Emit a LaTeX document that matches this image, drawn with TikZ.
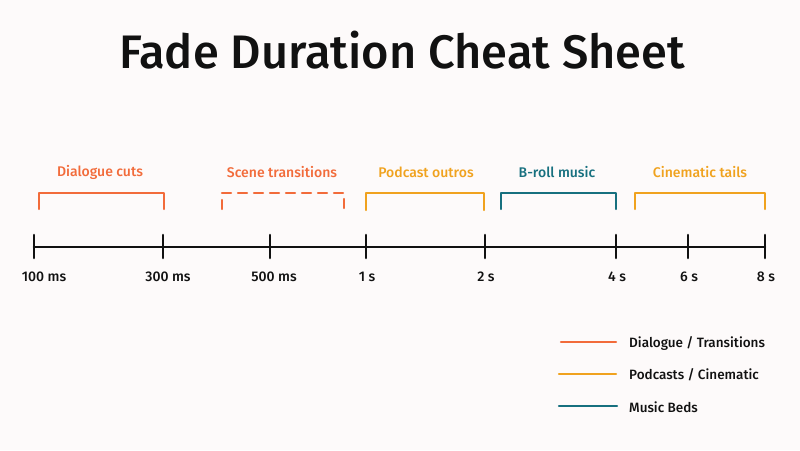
\documentclass[tikz,border=0pt]{standalone}
\usepackage{fontspec}
\setmainfont{Fira Sans}[UprightFont=* Medium]
\definecolor{bg}{HTML}{FDFAFA}
\definecolor{corange}{HTML}{F26B3A}
\definecolor{camber}{HTML}{F0A21E}
\definecolor{cteal}{HTML}{17707F}
\definecolor{ink}{HTML}{111111}
\begin{document}
\begin{tikzpicture}[x=1pt,y=-1pt,
  axisline/.style={draw=ink,line width=2.6pt,line cap=round},
  tickmark/.style={draw=ink,line width=2.6pt,line cap=round},
  ticklab/.style={font=\fontsize{14}{16}\selectfont,text=ink,inner sep=0pt},
  brk/.style={line width=2.4pt,line cap=round,line join=round},
  brklab/.style={font=\fontsize{14}{16}\selectfont,inner sep=0pt},
  leglab/.style={font=\fontsize{13.5}{15}\selectfont,text=ink,inner sep=0pt,anchor=west}]
\fill[bg] (0,0) rectangle (800,450);
\useasboundingbox (0,0) rectangle (800,450);
\node[font=\fontsize{47}{52}\selectfont,text=ink] (title) at (402,50) {Fade Duration Cheat Sheet};
% axis
\coordinate (a0) at (34,247);
\coordinate (a1) at (765,247);
\draw[axisline] (a0) -- (a1);
\foreach \x/\c/\n/\l in {34/44/t1/100 ms,163/168/t2/300 ms,270/274/t3/500 ms,366/367/t4/1 s,485/486/t5/2 s,616/617/t6/4 s,688/689/t7/6 s,765/766/t8/8 s}{
  \coordinate (\n top) at (\x,235);
  \coordinate (\n bot) at (\x,258);
  \draw[tickmark] (\n top) -- (\n bot);
  \node[ticklab] (\n lab) at (\c,277) {\l};
}
% brackets
\coordinate (b1a) at (39,209); \coordinate (b1b) at (39,193); \coordinate (b1c) at (164,193); \coordinate (b1d) at (164,209);
\draw[brk,corange] (b1a) -- (b1b) -- (b1c) -- (b1d);
\node[brklab,text=corange] (l1) at (100,172) {Dialogue cuts};
\coordinate (b2a) at (222,209); \coordinate (b2b) at (222,193); \coordinate (b2c) at (344,193); \coordinate (b2d) at (344,209);
\draw[brk,corange,dash pattern=on 9pt off 7pt] (b2a) -- (b2b) -- (b2c) -- (b2d);
\node[brklab,text=corange] (l2) at (282,172) {Scene transitions};
\coordinate (b3a) at (366,210); \coordinate (b3b) at (366,193); \coordinate (b3c) at (484,193); \coordinate (b3d) at (484,210);
\draw[brk,camber] (b3a) -- (b3b) -- (b3c) -- (b3d);
\node[brklab,text=camber] (l3) at (426,172) {Podcast outros};
\coordinate (b4a) at (501,209); \coordinate (b4b) at (501,193); \coordinate (b4c) at (616,193); \coordinate (b4d) at (616,209);
\draw[brk,cteal] (b4a) -- (b4b) -- (b4c) -- (b4d);
\node[brklab,text=cteal] (l4) at (557,172) {B-roll music};
\coordinate (b5a) at (635,209); \coordinate (b5b) at (635,193); \coordinate (b5c) at (765,193); \coordinate (b5d) at (765,209);
\draw[brk,camber] (b5a) -- (b5b) -- (b5c) -- (b5d);
\node[brklab,text=camber] (l5) at (700,172) {Cinematic tails};
% legend
\coordinate (g1a) at (561,342); \coordinate (g1b) at (616,342);
\draw[brk,corange] (g1a) -- (g1b);
\node[leglab] (g1) at (629,343) {Dialogue / Transitions};
\coordinate (g2a) at (559,374); \coordinate (g2b) at (616,374);
\draw[brk,camber] (g2a) -- (g2b);
\node[leglab] (g2) at (629,375) {Podcasts / Cinematic};
\coordinate (g3a) at (559,406); \coordinate (g3b) at (617,406);
\draw[brk,cteal] (g3a) -- (g3b);
\node[leglab] (g3) at (629,407) {Music Beds};
\end{tikzpicture}
\end{document}
